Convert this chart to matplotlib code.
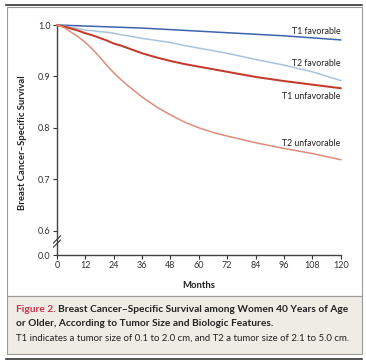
import matplotlib.pyplot as plt
from matplotlib.patches import Rectangle
from matplotlib.lines import Line2D

plt.rcParams['font.family'] = ['Lato', 'DejaVu Sans']

# survival curves
months = [0, 3, 6, 9, 12, 15, 18, 21, 24, 27, 30, 36, 42, 48, 54, 60, 66, 72, 84, 96, 108, 120]
t1_fav = [1.0, 0.9995, 0.999, 0.9985, 0.998, 0.9975, 0.997, 0.9965, 0.996, 0.9955, 0.995,
          0.994, 0.9925, 0.991, 0.9895, 0.988, 0.9865, 0.985, 0.982, 0.979, 0.975, 0.971]
t2_fav = [1.0, 0.998, 0.995, 0.993, 0.990, 0.989, 0.987, 0.986, 0.984, 0.981, 0.979,
          0.974, 0.970, 0.966, 0.960, 0.955, 0.950, 0.945, 0.933, 0.922, 0.909, 0.892]
t1_unfav = [1.0, 0.997, 0.993, 0.989, 0.984, 0.980, 0.975, 0.970, 0.964, 0.960, 0.955,
            0.945, 0.937, 0.930, 0.924, 0.919, 0.914, 0.909, 0.899, 0.891, 0.884, 0.877]
t2_unfav = [1.0, 0.995, 0.986, 0.977, 0.966, 0.953, 0.938, 0.922, 0.907, 0.894, 0.882,
            0.860, 0.841, 0.825, 0.811, 0.800, 0.791, 0.784, 0.771, 0.760, 0.750, 0.738]

labels = ["T1 favorable", "T2 favorable", "T1 unfavorable", "T2 unfavorable"]
label_y = [0.988, 0.926, 0.860, 0.770]
colors = ["#3e64b0", "#a9c3da", "#c43a2c", "#de8c7a"]
widths = [1.1, 1.1, 1.45, 1.1]

x_ticks = [0, 12, 24, 36, 48, 60, 72, 84, 96, 108, 120]
y_ticks = [0.6, 0.7, 0.8, 0.9, 1.0]
y_tick_labels = ["0.6", "0.7", "0.8", "0.9", "1.0"]
y_floor = 0.5527  # where the broken axis puts 0.0

fig = plt.figure(figsize=(3.66, 3.63), dpi=100)

# frame and caption panel
W, H = 366, 363
def fx(px): return px / W
def fy(py): return 1 - py / H

fig.add_artist(Line2D([fx(6), fx(362)], [fy(5), fy(5)], color="#333333", lw=1.2))
fig.add_artist(Rectangle((fx(7), fy(296)), fx(355), fy(7) - fy(296), fill=False,
                         edgecolor="#9a9a9a", lw=0.8))
fig.add_artist(Rectangle((fx(7), fy(354)), fx(355), fy(296) - fy(354),
                         facecolor="#efece5", edgecolor="#9a9a9a", lw=0.8))
fig.add_artist(Line2D([fx(6), fx(362)], [fy(359), fy(359)], color="#333333", lw=1.2))

ax = fig.add_axes([fx(57), fy(255), fx(340.7) - fx(57), fy(25) - fy(255)])

series = [t1_fav, t2_fav, t1_unfav, t2_unfav]
for vals, c, lw in zip(series, colors, widths):
    ax.plot(months, vals, color=c, lw=lw, clip_on=False, zorder=3)

for lab, ly in zip(labels, label_y):
    ax.text(120, ly, lab, ha="right", va="center", fontsize=6.3, color="#222222")

ax.set_xlim(0, 120)
ax.set_ylim(y_floor, 1.0)
ax.set_xticks(x_ticks)
ax.set_yticks([y_floor] + y_ticks)
ax.set_yticklabels(["0.0"] + y_tick_labels)
ax.tick_params(labelsize=6.5, length=3, width=0.8, colors="#333333", pad=1.5)
for s in ["top", "right"]:
    ax.spines[s].set_visible(False)
for s in ["left", "bottom"]:
    ax.spines[s].set_color("#444444")
    ax.spines[s].set_linewidth(1.0)

# axis break marks
for dy in [0, 0.008]:
    ax.plot([-1.5, 1.5], [0.568 + dy, 0.582 + dy], color="#333333", lw=0.8,
            clip_on=False, zorder=4)

ax.set_xlabel("Months", fontsize=6.8, fontweight="bold", labelpad=8, color="#222222")
fig.text(fx(23), fy(143), "Breast Cancer\u2013Specific Survival", rotation=90,
         ha="center", va="center", fontsize=6.8, fontweight="bold", color="#222222")

# caption
fig.text(fx(16), fy(309), "Figure 2.", color="#c8354a", fontsize=7.3, fontweight="bold",
         va="center")
fig.text(fx(58), fy(309), "Breast Cancer\u2013Specific Survival among Women 40 Years of Age",
         color="#222222", fontsize=7.3, fontweight="bold", va="center")
fig.text(fx(16), fy(323), "or Older, According to Tumor Size and Biologic Features.",
         color="#222222", fontsize=7.3, fontweight="bold", va="center")
fig.text(fx(16), fy(338), "T1 indicates a tumor size of 0.1 to 2.0 cm, and T2 a tumor size of 2.1 to 5.0 cm.",
         color="#222222", fontsize=6.9, va="center")

fig.savefig("out.png", dpi=100)
